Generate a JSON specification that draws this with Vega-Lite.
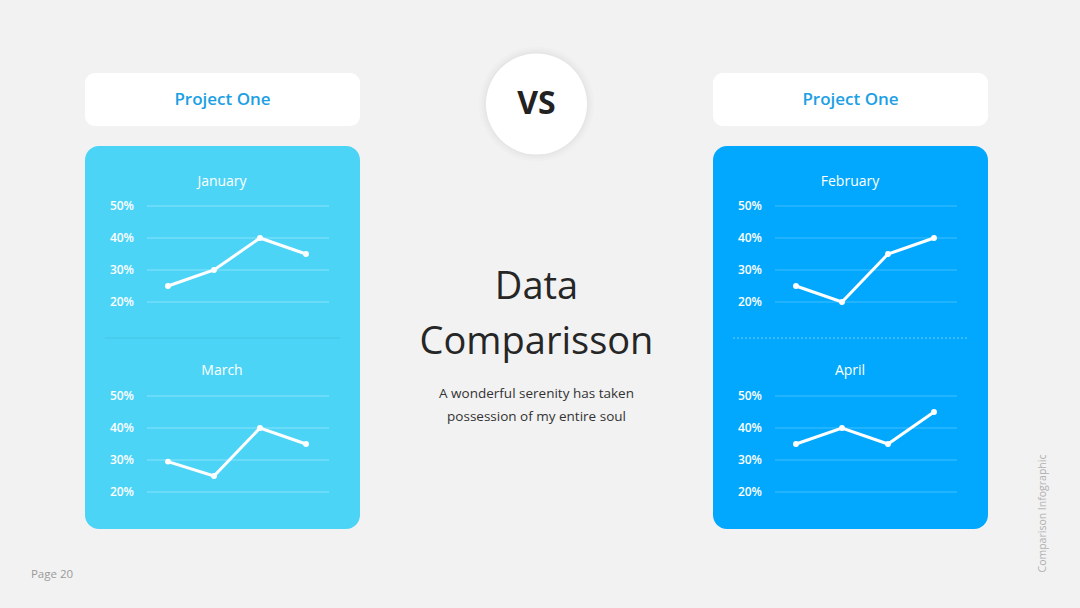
{
  "$schema": "https://vega.github.io/schema/vega-lite/v6.json",
  "background": "#f2f2f2",
  "padding": {"left": 19, "top": 39, "right": 0, "bottom": 0},
  "spacing": 0,
  "config": {"view": {"stroke": null}, "font": "Open Sans", "concat": {"spacing": 0}},
  "datasets": {
    "series": [
      {"chart": "January", "i": 1, "v": 0.25}, {"chart": "January", "i": 2, "v": 0.30}, {"chart": "January", "i": 3, "v": 0.40}, {"chart": "January", "i": 4, "v": 0.35},
      {"chart": "March", "i": 1, "v": 0.295}, {"chart": "March", "i": 2, "v": 0.25}, {"chart": "March", "i": 3, "v": 0.40}, {"chart": "March", "i": 4, "v": 0.35},
      {"chart": "February", "i": 1, "v": 0.25}, {"chart": "February", "i": 2, "v": 0.20}, {"chart": "February", "i": 3, "v": 0.35}, {"chart": "February", "i": 4, "v": 0.40},
      {"chart": "April", "i": 1, "v": 0.35}, {"chart": "April", "i": 2, "v": 0.40}, {"chart": "April", "i": 3, "v": 0.35}, {"chart": "April", "i": 4, "v": 0.45}
    ],
    "grid": [{"v": 0.2}, {"v": 0.3}, {"v": 0.4}, {"v": 0.5}],
    "titles": [{"chart": "January"}, {"chart": "March"}, {"chart": "February"}, {"chart": "April"}],
    "sep": [{"v": 0.0875}]
  },
  "hconcat": [
    {
      "spacing": 0,
      "vconcat": [
        {"width": 66, "height": 510, "data": {"values": []}, "mark": "point"},
        {"width": 66, "height": 52, "data": {"values": [{"t": "Page 20"}]},
         "mark": {"type": "text", "fontSize": 11.5, "color": "#9a9a9a"},
         "encoding": {"text": {"field": "t"}}}
      ]
    },
    {
      "spacing": 20,
      "vconcat": [
        {"width": 275, "height": 14, "data": {"values": []}, "mark": "point"},
        {"width": 275, "height": 53, "view": {"fill": "#ffffff", "cornerRadius": 10, "stroke": null},
         "data": {"values": [{"t": "Project One"}]},
         "mark": {"type": "text", "fontSize": 17, "color": "#1ca0e4", "fontWeight": 600},
         "encoding": {"text": {"field": "t"}}},
        {"width": 275, "height": 383, "view": {"fill": "#4cd4f7", "cornerRadius": 14, "stroke": null},
         "resolve": {"scale": {"y": "independent"}},
         "layer": [
           {"layer": [
             {"data": {"name": "grid"}, "mark": {"type": "rule", "color": "#ffffff", "opacity": 0.35, "strokeWidth": 1},
              "encoding": {"x": {"datum": 0.543, "type": "quantitative", "scale": {"domain": [-0.804, 5.174], "nice": false, "zero": false}, "axis": null},
                           "x2": {"datum": 4.5},
                           "y": {"field": "v", "type": "quantitative", "scale": {"domain": [-0.509375, 0.6875], "nice": false, "zero": false}, "axis": null}}},
             {"data": {"name": "sep"}, "mark": {"type": "rule", "color": "#3fb9d9", "opacity": 0.6, "strokeWidth": 1},
              "encoding": {"x": {"datum": -0.37, "type": "quantitative"}, "x2": {"datum": 4.739}, "y": {"field": "v", "type": "quantitative"}}},
             {"data": {"name": "grid"}, "mark": {"type": "text", "align": "right", "baseline": "middle", "color": "#ffffff", "fontSize": 12, "fontWeight": 600},
              "encoding": {"x": {"datum": 0.261, "type": "quantitative"}, "y": {"field": "v", "type": "quantitative"}, "text": {"field": "v", "type": "quantitative", "format": ".0%"}}},
             {"data": {"name": "series"}, "transform": [{"filter": "datum.chart === 'January'"}],
              "mark": {"type": "line", "color": "#ffffff", "strokeWidth": 3, "point": {"filled": true, "color": "#ffffff", "size": 35, "opacity": 1}},
              "encoding": {"x": {"field": "i", "type": "quantitative"}, "y": {"field": "v", "type": "quantitative"}}},
             {"data": {"name": "titles"}, "transform": [{"filter": "datum.chart === 'January'"}],
              "mark": {"type": "text", "color": "#ffffff", "fontSize": 14, "fontWeight": 500, "baseline": "middle"},
              "encoding": {"x": {"datum": 2.174, "type": "quantitative"}, "y": {"datum": 0.575, "type": "quantitative"}, "text": {"field": "chart"}}}
           ]},
           {"layer": [
             {"data": {"name": "grid"}, "mark": {"type": "rule", "color": "#ffffff", "opacity": 0.35, "strokeWidth": 1},
              "encoding": {"x": {"datum": 0.543, "type": "quantitative"},
                           "x2": {"datum": 4.5},
                           "y": {"field": "v", "type": "quantitative", "scale": {"domain": [0.084375, 1.28125], "nice": false, "zero": false}, "axis": null}}},
             {"data": {"name": "grid"}, "mark": {"type": "text", "align": "right", "baseline": "middle", "color": "#ffffff", "fontSize": 12, "fontWeight": 600},
              "encoding": {"x": {"datum": 0.261, "type": "quantitative"}, "y": {"field": "v", "type": "quantitative"}, "text": {"field": "v", "type": "quantitative", "format": ".0%"}}},
             {"data": {"name": "series"}, "transform": [{"filter": "datum.chart === 'March'"}],
              "mark": {"type": "line", "color": "#ffffff", "strokeWidth": 3, "point": {"filled": true, "color": "#ffffff", "size": 35, "opacity": 1}},
              "encoding": {"x": {"field": "i", "type": "quantitative"}, "y": {"field": "v", "type": "quantitative"}}},
             {"data": {"name": "titles"}, "transform": [{"filter": "datum.chart === 'March'"}],
              "mark": {"type": "text", "color": "#ffffff", "fontSize": 14, "fontWeight": 500, "baseline": "middle"},
              "encoding": {"x": {"datum": 2.174, "type": "quantitative"}, "y": {"datum": 0.578, "type": "quantitative"}, "text": {"field": "chart"}}}
           ]}
         ]}
      ]
    },
    {
      "spacing": 0,
      "vconcat": [
        {"width": 353, "height": 130, "data": {"values": [{"t": "VS"}]},
         "layer": [
           {"mark": {"type": "point", "filled": true, "shape": "circle", "color": "#000000", "opacity": 0.012, "size": 13273}, "encoding": {}},
           {"mark": {"type": "point", "filled": true, "shape": "circle", "color": "#000000", "opacity": 0.015, "size": 12060}, "encoding": {}},
           {"mark": {"type": "point", "filled": true, "shape": "circle", "color": "#000000", "opacity": 0.02, "size": 11000}, "encoding": {}},
           {"mark": {"type": "point", "filled": true, "shape": "circle", "color": "#ffffff", "opacity": 1, "size": 10207}, "encoding": {}},
           {"mark": {"type": "text", "fontSize": 32, "fontWeight": "bold", "color": "#222222"}, "encoding": {"text": {"field": "t"}}}
         ]},
        {"width": 353, "height": 360, "data": {"values": [{"a": "Data"}]},
         "layer": [
           {"mark": {"type": "text", "fontSize": 38, "color": "#262626", "lineHeight": 55, "dy": -61, "baseline": "middle"},
            "encoding": {"text": {"value": ["Data", "Comparisson"]}}},
           {"mark": {"type": "text", "fontSize": 13.5, "color": "#333333", "lineHeight": 23, "dy": 45, "baseline": "middle"},
            "encoding": {"text": {"value": ["A wonderful serenity has taken", "possession of my entire soul"]}}}
         ]}
      ]
    },
    {
      "spacing": 20,
      "vconcat": [
        {"width": 275, "height": 14, "data": {"values": []}, "mark": "point"},
        {"width": 275, "height": 53, "view": {"fill": "#ffffff", "cornerRadius": 10, "stroke": null},
         "data": {"values": [{"t": "Project One"}]},
         "mark": {"type": "text", "fontSize": 17, "color": "#1ca0e4", "fontWeight": 600},
         "encoding": {"text": {"field": "t"}}},
        {"width": 275, "height": 383, "view": {"fill": "#02a8fd", "cornerRadius": 14, "stroke": null},
         "resolve": {"scale": {"y": "independent"}},
         "layer": [
           {"layer": [
             {"data": {"name": "grid"}, "mark": {"type": "rule", "color": "#ffffff", "opacity": 0.25, "strokeWidth": 1},
              "encoding": {"x": {"datum": 0.543, "type": "quantitative", "scale": {"domain": [-0.804, 5.174], "nice": false, "zero": false}, "axis": null},
                           "x2": {"datum": 4.5},
                           "y": {"field": "v", "type": "quantitative", "scale": {"domain": [-0.509375, 0.6875], "nice": false, "zero": false}, "axis": null}}},
             {"data": {"name": "sep"}, "mark": {"type": "rule", "color": "#ffffff", "opacity": 0.45, "strokeWidth": 1, "strokeDash": [2, 2]},
              "encoding": {"x": {"datum": -0.37, "type": "quantitative"}, "x2": {"datum": 4.739}, "y": {"field": "v", "type": "quantitative"}}},
             {"data": {"name": "grid"}, "mark": {"type": "text", "align": "right", "baseline": "middle", "color": "#ffffff", "fontSize": 12, "fontWeight": 600},
              "encoding": {"x": {"datum": 0.261, "type": "quantitative"}, "y": {"field": "v", "type": "quantitative"}, "text": {"field": "v", "type": "quantitative", "format": ".0%"}}},
             {"data": {"name": "series"}, "transform": [{"filter": "datum.chart === 'February'"}],
              "mark": {"type": "line", "color": "#ffffff", "strokeWidth": 3, "point": {"filled": true, "color": "#ffffff", "size": 35, "opacity": 1}},
              "encoding": {"x": {"field": "i", "type": "quantitative"}, "y": {"field": "v", "type": "quantitative"}}},
             {"data": {"name": "titles"}, "transform": [{"filter": "datum.chart === 'February'"}],
              "mark": {"type": "text", "color": "#ffffff", "fontSize": 14, "fontWeight": 500, "baseline": "middle"},
              "encoding": {"x": {"datum": 2.174, "type": "quantitative"}, "y": {"datum": 0.575, "type": "quantitative"}, "text": {"field": "chart"}}}
           ]},
           {"layer": [
             {"data": {"name": "grid"}, "mark": {"type": "rule", "color": "#ffffff", "opacity": 0.25, "strokeWidth": 1},
              "encoding": {"x": {"datum": 0.543, "type": "quantitative"},
                           "x2": {"datum": 4.5},
                           "y": {"field": "v", "type": "quantitative", "scale": {"domain": [0.084375, 1.28125], "nice": false, "zero": false}, "axis": null}}},
             {"data": {"name": "grid"}, "mark": {"type": "text", "align": "right", "baseline": "middle", "color": "#ffffff", "fontSize": 12, "fontWeight": 600},
              "encoding": {"x": {"datum": 0.261, "type": "quantitative"}, "y": {"field": "v", "type": "quantitative"}, "text": {"field": "v", "type": "quantitative", "format": ".0%"}}},
             {"data": {"name": "series"}, "transform": [{"filter": "datum.chart === 'April'"}],
              "mark": {"type": "line", "color": "#ffffff", "strokeWidth": 3, "point": {"filled": true, "color": "#ffffff", "size": 35, "opacity": 1}},
              "encoding": {"x": {"field": "i", "type": "quantitative"}, "y": {"field": "v", "type": "quantitative"}}},
             {"data": {"name": "titles"}, "transform": [{"filter": "datum.chart === 'April'"}],
              "mark": {"type": "text", "color": "#ffffff", "fontSize": 14, "fontWeight": 500, "baseline": "middle"},
              "encoding": {"x": {"datum": 2.174, "type": "quantitative"}, "y": {"datum": 0.578, "type": "quantitative"}, "text": {"field": "chart"}}}
           ]}
         ]}
      ]
    },
    {
      "spacing": 0,
      "vconcat": [
        {"width": 92, "height": 380, "data": {"values": []}, "mark": "point"},
        {"width": 92, "height": 189, "data": {"values": [{"t": "Comparison Infographic"}]},
         "mark": {"type": "text", "fontSize": 10.5, "color": "#b0b0b0", "angle": 270, "dy": 9},
         "encoding": {"text": {"field": "t"}}}
      ]
    }
  ]
}
